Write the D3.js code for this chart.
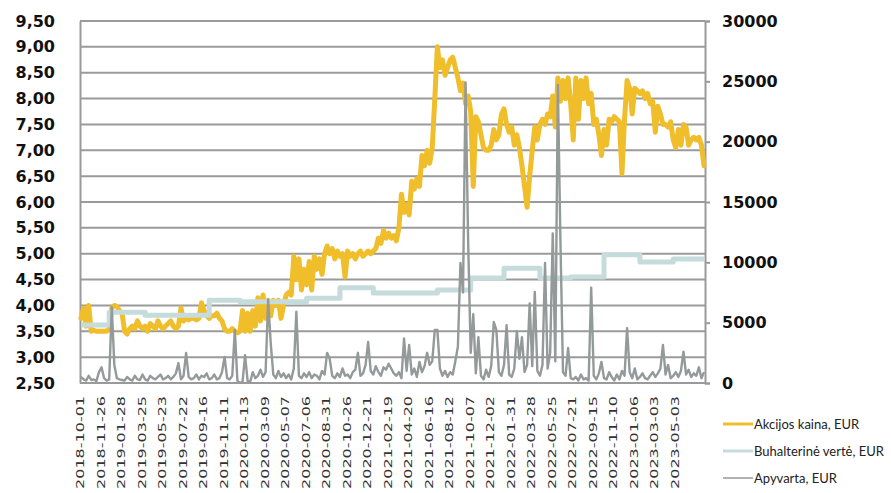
<!DOCTYPE html>
<html>
<head>
<meta charset="utf-8">
<script src="https://cdn.jsdelivr.net/npm/d3@7"></script>
<style>
  body { margin: 0; background: #fff; }
  svg { display: block; }
</style>
</head>
<body>
<div id="chart"></div>
<script>
// one sample every 5 trading days, a date label every 8 samples
const tickLabels = ["2018-10-01", "2018-11-26", "2019-01-28", "2019-03-25", "2019-05-23", "2019-07-22",
  "2019-09-16", "2019-11-11", "2020-01-13", "2020-03-09", "2020-05-07", "2020-07-06", "2020-08-31",
  "2020-10-26", "2020-12-21", "2021-02-19", "2021-04-20", "2021-06-16", "2021-08-12", "2021-10-07",
  "2021-12-02", "2022-01-31", "2022-03-28", "2022-05-25", "2022-07-21", "2022-09-15", "2022-11-10",
  "2023-01-06", "2023-03-03", "2023-05-03"];
const labelStep = 8;

const price = [
  3.75, 3.95, 3.6, 4.0, 3.5, 3.52, 3.5, 3.5,
  3.5, 3.5, 3.5, 3.55, 3.95, 4.0, 3.98, 3.9,
  3.85, 3.5, 3.45, 3.55, 3.6, 3.55, 3.7, 3.6,
  3.55, 3.6, 3.5, 3.65, 3.6, 3.55, 3.7, 3.6,
  3.55, 3.6, 3.65, 3.7, 3.6, 3.55, 3.6, 3.95,
  3.7, 3.75, 3.72, 3.75, 3.75, 3.72, 3.75, 4.05,
  3.9, 3.8, 3.75, 3.8, 3.8, 3.85, 3.75, 3.7,
  3.55, 3.5, 3.5, 3.55, 3.5, 3.47, 3.5, 3.9,
  3.5, 3.85, 3.5, 3.9, 3.6, 4.15, 3.7, 4.2,
  3.75, 4.1, 3.8, 4.1, 4.0, 4.1, 3.75, 4.0,
  4.2, 4.25, 4.2, 4.95, 4.5, 4.9, 4.3, 4.7,
  4.4, 4.85, 4.3, 4.95, 4.7, 4.9, 4.6, 5.0,
  5.15, 5.0, 5.1, 4.9, 5.05, 4.95, 5.0, 4.55,
  5.05, 4.95, 5.0, 4.9, 5.0, 5.05, 4.95, 5.0,
  5.05, 5.0, 5.05, 5.1, 5.3, 5.2, 5.45, 5.3,
  5.4, 5.3, 5.35, 5.25, 5.5, 6.15, 5.8, 5.95,
  5.75, 6.4, 6.25, 6.45, 6.3, 6.9, 6.7, 7.0,
  6.75, 7.05, 8.0, 9.0, 8.6, 8.75, 8.45, 8.6,
  8.75, 8.8, 8.6, 8.4, 8.15, 8.3, 7.9, 8.05,
  7.75, 6.3, 7.65, 7.55, 7.3, 7.05, 7.0, 7.0,
  7.1, 7.4, 7.2, 7.3, 7.7, 7.8, 7.5, 7.35,
  7.45, 7.1, 7.3, 7.05, 6.7, 6.3, 5.9, 6.5,
  7.0, 7.45, 7.2, 7.5, 7.6, 7.5, 7.7, 7.65,
  8.05, 7.45, 8.4, 7.95, 8.35, 8.0, 8.4, 7.9,
  7.2, 8.4, 7.6, 8.35, 8.0, 8.4, 7.9, 8.1,
  7.5, 7.6, 7.3, 6.9, 7.4, 7.1, 7.6, 7.55,
  7.65, 7.6, 7.55, 6.55, 7.6, 8.35, 8.2, 7.7,
  8.2, 8.15, 8.1, 8.15, 8.0, 8.1, 7.9, 7.95,
  7.35, 7.85, 7.7, 7.5, 7.5, 7.45, 7.55, 7.2,
  7.05, 7.4, 7.1, 7.5, 7.45, 7.1, 7.2, 7.25,
  7.2, 7.25, 7.1, 6.7
];

// book value changes: sample index where a new value starts
const bookStart = [0, 11, 25, 50, 62, 88, 101, 114, 139, 152, 165, 179, 191, 204, 218, 231];
const bookValue = [3.62, 3.87, 3.81, 4.1, 4.07, 4.14, 4.34, 4.24, 4.3, 4.53, 4.72, 4.53, 4.55, 4.98, 4.84, 4.9];

const turnover = [
  500, 300, 200, 600, 250, 300, 150, 900,
  1300, 400, 200, 300, 6300, 1500, 400, 300,
  250, 200, 500, 300, 200, 600, 300, 250,
  700, 300, 200, 600, 400, 300, 500, 700,
  300, 400, 600, 300, 500, 800, 1650, 300,
  600, 2500, 500, 300, 400, 700, 300, 600,
  500, 800, 300, 400, 700, 300, 400, 900,
  2150, 400, 300, 600, 4400, 200, 0, 100,
  2300, 150, 100, 900, 400, 600, 1100, 500,
  900, 6900, 3300, 700, 400, 1000, 500, 800,
  400, 700, 300, 1200, 5900, 600, 400, 800,
  500, 900, 400, 700, 600, 300, 1000, 700,
  2500, 2000, 600, 400, 800, 500, 1200, 600,
  700, 400, 900, 1100, 2500, 600, 800, 1500,
  3400, 1000, 700, 1400, 900, 600, 1300, 1100,
  1600, 1200, 800, 600, 900, 400, 3700, 1000,
  3150, 700, 1200, 500, 1750, 900, 1400, 2500,
  1500, 1800, 4400, 4400, 1200, 600, 1000, 500,
  900, 700, 1800, 3000, 9950, 7500, 24900, 11800,
  2500, 5700, 800, 3800, 600, 300, 1100, 500,
  1400, 5050, 4400, 900, 600, 1500, 4800, 700,
  500, 1200, 4300, 2000, 3800, 900, 1500, 6600,
  1400, 7550, 1000, 600, 1500, 9950, 1200, 2500,
  12400, 1800, 24700, 11800, 900, 600, 2900, 400,
  300, 500, 200, 700, 300, 400, 200, 7900,
  600, 300, 800, 1750, 400, 300, 900, 500,
  200, 700, 300, 1000, 600, 4550, 900, 400,
  1200, 300, 500, 800, 400, 300, 600, 900,
  500, 800, 1200, 3150, 700, 1500, 400, 600,
  900, 500, 1000, 2600, 700, 1100, 500, 800,
  600, 1300, 400, 900
];

const leftTicks = d3.range(2.5, 9.51, 0.5);
const rightTicks = d3.range(0, 30001, 5000);
const seriesNames = ["Akcijos kaina, EUR", "Buhalterinė vertė, EUR", "Apyvarta, EUR"];
const seriesColors = ["#f0bd2b", "#c6dbdb", "#949a99"];

const width = 891, height = 493;
const plot = {left: 80, right: 705, top: 21, bottom: 383};

const svg = d3.select("#chart").append("svg")
  .attr("width", width)
  .attr("height", height);

svg.append("rect").attr("width", width).attr("height", height).attr("fill", "#fff");

const x = d3.scaleLinear().domain([0, price.length - 1]).range([81, 704]);
const yL = d3.scaleLinear().domain([2.5, 9.5]).range([plot.bottom, plot.top]);
const yR = d3.scaleLinear().domain([0, 30000]).range([plot.bottom, plot.top]);

// grid
svg.append("g").selectAll("line")
  .data(leftTicks)
  .enter().append("line")
  .attr("x1", plot.left).attr("x2", plot.right)
  .attr("y1", d => yL(d)).attr("y2", d => yL(d))
  .attr("stroke", "#9a9a9a")
  .attr("stroke-width", 2);

// left axis
const axL = svg.append("g").attr("transform", "translate(" + plot.left + ",0)")
  .call(d3.axisLeft(yL).tickValues(leftTicks).tickSize(0).tickPadding(25)
    .tickFormat(d => d3.format(".2f")(d).replace(".", ",")));
axL.select(".domain").attr("stroke", "#9a9a9a").attr("stroke-width", 2);
axL.selectAll("text")
  .attr("font-family", "DejaVu Sans, Verdana, sans-serif")
  .attr("font-weight", "bold")
  .attr("font-size", 16)
  .attr("fill", "#111");

// right axis
const axR = svg.append("g").attr("transform", "translate(" + plot.right + ",0)")
  .call(d3.axisRight(yR).tickValues(rightTicks).tickSize(5).tickPadding(12).tickFormat(d3.format("d")));
axR.select(".domain").attr("stroke", "#9a9a9a").attr("stroke-width", 2);
axR.selectAll(".tick line").attr("stroke", "#9a9a9a").attr("stroke-width", 2);
axR.selectAll("text")
  .attr("font-family", "DejaVu Sans, Verdana, sans-serif")
  .attr("font-weight", "bold")
  .attr("font-size", 16)
  .attr("fill", "#111");

// bottom line
svg.append("line")
  .attr("x1", plot.left).attr("x2", plot.right)
  .attr("y1", plot.bottom).attr("y2", plot.bottom)
  .attr("stroke", "#9a9a9a").attr("stroke-width", 2);

// x labels, squeezed like the original
svg.append("g").selectAll("text")
  .data(tickLabels)
  .enter().append("text")
  .attr("transform", (d, i) => "translate(" + (x(i * labelStep) + 3) + ",396) rotate(-90) scale(1,0.62)")
  .attr("text-anchor", "end")
  .attr("font-family", "DejaVu Sans, Verdana, sans-serif")
  .attr("font-size", 16)
  .attr("fill", "#333")
  .text(d => d);

// series
const priceLine = d3.line()
  .x((d, i) => x(i))
  .y(d => yL(d))
  .curve(d3.curveLinear);

svg.append("path")
  .datum(price)
  .attr("d", priceLine)
  .attr("fill", "none")
  .attr("stroke", seriesColors[0])
  .attr("stroke-width", 5)
  .attr("stroke-linejoin", "round")
  .attr("stroke-linecap", "round");

const book = bookStart.map((s, i) => ({i: s, v: bookValue[i]}));
book.push({i: price.length - 1, v: bookValue[bookValue.length - 1]});

svg.append("path")
  .datum(book)
  .attr("d", d3.line().x(d => x(d.i)).y(d => yL(d.v)).curve(d3.curveStepAfter))
  .attr("fill", "none")
  .attr("stroke", seriesColors[1])
  .attr("stroke-width", 5)
  .attr("stroke-linejoin", "round");

svg.append("path")
  .datum(turnover)
  .attr("d", d3.line().x((d, i) => x(i)).y(d => yR(d)))
  .attr("fill", "none")
  .attr("stroke", seriesColors[2])
  .attr("stroke-width", 2.4)
  .attr("stroke-linejoin", "round");

// legend
const legendY = [424, 451, 478];
const legend = svg.append("g").selectAll("g")
  .data(seriesNames)
  .enter().append("g")
  .attr("transform", (d, i) => "translate(723," + legendY[i] + ")");

legend.append("line")
  .attr("x1", 0).attr("x2", 30)
  .attr("stroke", (d, i) => seriesColors[i])
  .attr("stroke-width", (d, i) => i === 2 ? 1.5 : 3);

legend.append("text")
  .attr("x", 31)
  .attr("dy", "0.35em")
  .attr("font-family", "Lato, sans-serif")
  .attr("font-size", 13)
  .attr("fill", "#222")
  .text(d => d);
</script>
</body>
</html>
